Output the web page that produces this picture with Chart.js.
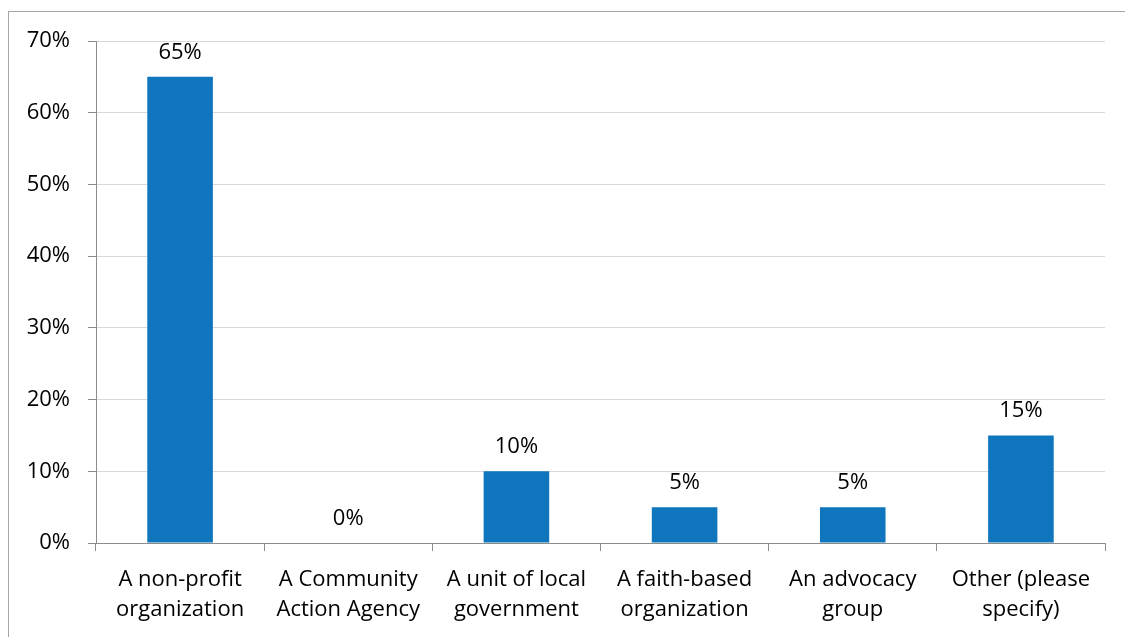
<!DOCTYPE html>
<html>
<head>
<meta charset="utf-8">
<script src="https://cdn.jsdelivr.net/npm/chart.js@4.4.1/dist/chart.umd.min.js"></script>
<style>
  html, body { margin: 0; padding: 0; background: #fff; }
  #wrap { position: relative; width: 1125px; height: 637px; overflow: hidden; }
  #frame { position: absolute; left: 8px; top: 11px; width: 1200px; height: 700px;
           border-left: 1px solid #a6a6a6; border-top: 1px solid #a6a6a6; }
  canvas { position: absolute; left: 0; top: 0; }
</style>
</head>
<body>
<div id="wrap">
  <div id="frame"></div>
  <canvas id="chartBar" width="1125" height="637"></canvas>
</div>
<script>
const labels = [
  ["A non-profit", "organization"],
  ["A Community", "Action Agency"],
  ["A unit of local", "government"],
  ["A faith-based", "organization"],
  ["An advocacy", "group"],
  ["Other (please", "specify)"]
];
const values = [65, 0, 10, 5, 5, 15];
const yTicks = [0, 10, 20, 30, 40, 50, 60, 70];

const fontFamily = "'Open Sans', Lato, sans-serif";

// writes the percentage above each bar
const valueLabels = {
  id: "valueLabels",
  afterDatasetsDraw(chart) {
    const ctx = chart.ctx;
    const meta = chart.getDatasetMeta(0);
    ctx.save();
    ctx.font = "22px " + fontFamily;
    ctx.fillStyle = "#000";
    ctx.textAlign = "center";
    ctx.textBaseline = "alphabetic";
    meta.data.forEach((bar, i) => {
      ctx.fillText(values[i] + "%", bar.x, bar.y - 18);
    });
    ctx.restore();
  }
};

const data = {
  labels: labels,
  datasets: [
    {
      data: values,
      backgroundColor: "#0F75BD",
      borderWidth: 0,
      barPercentage: 0.39,
      categoryPercentage: 1.0
    }
  ]
};

const config = {
  type: "bar",
  data,
  options: {
    responsive: false,
    animation: false,
    layout: { padding: { top: 41, right: 20, bottom: 0, left: 0 } },
    plugins: {
      legend: { display: false },
      tooltip: { enabled: false }
    },
    scales: {
      x: {
        grid: {
          offset: true,
          drawOnChartArea: false,
          tickLength: 8,
          tickColor: "#8c8c8c"
        },
        border: { color: "#8c8c8c" },
        ticks: {
          color: "#000",
          font: { family: fontFamily, size: 22, lineHeight: 1.36 },
          padding: 14,
          maxRotation: 0,
          autoSkip: false
        },
        afterFit(scale) { scale.height = 94; }
      },
      y: {
        min: 0,
        max: 70,
        afterBuildTicks(scale) {
          scale.ticks = yTicks.map(v => ({ value: v }));
        },
        grid: {
          color: "#d9d9d9",
          tickLength: 8,
          tickColor: "#8c8c8c"
        },
        border: { color: "#8c8c8c" },
        ticks: {
          color: "#000",
          font: { family: fontFamily, size: 22 },
          padding: 18,
          callback: v => v + "%"
        },
        afterFit(scale) { scale.width = 96; }
      }
    }
  },
  plugins: [valueLabels]
};

var chartBar = new Chart(document.getElementById("chartBar"), config);
</script>
</body>
</html>
